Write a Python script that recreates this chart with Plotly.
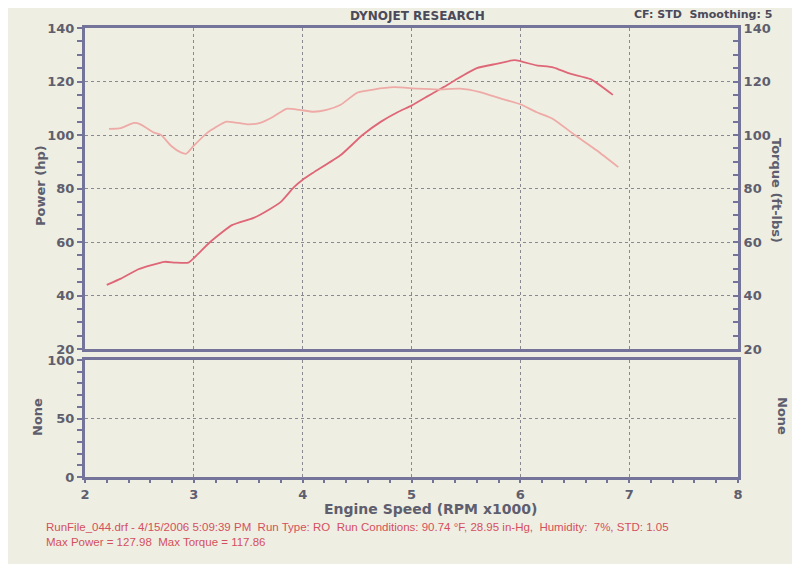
import plotly.graph_objects as go

# ---- data ----
rpm_power = [2.2, 2.33, 2.49, 2.73, 2.83, 2.95, 3.0, 3.15, 3.35, 3.55, 3.67, 3.8, 3.92, 4.0, 4.1,
             4.35, 4.55, 4.72, 4.88, 5.0, 5.17, 5.3, 5.4, 5.6, 5.78, 5.95, 6.15, 6.3, 6.45, 6.65, 6.85]
power_hp = [44, 46.3, 49.8, 52.6, 52.3, 52.3, 54, 60, 66.3, 69, 71.6, 75, 80.5, 83.3, 86,
            92.5, 100, 105, 108.7, 111, 115, 118, 120.5, 125, 126.6, 127.98, 126, 125.3, 123, 120.8, 115]

rpm_torque = [2.22, 2.33, 2.45, 2.51, 2.63, 2.7, 2.79, 2.88, 2.93, 3.0, 3.12, 3.3, 3.49, 3.61, 3.73,
              3.85, 3.97, 4.1, 4.22, 4.35, 4.5, 4.65, 4.84, 5.05, 5.25, 5.45, 5.63, 5.83, 6.0, 6.15,
              6.3, 6.5, 6.7, 6.9]
torque_ftlb = [102.3, 102.6, 104.5, 104, 101, 100, 96, 93.5, 93, 96, 100.7, 105, 104, 104.5, 106.8,
               109.8, 109.4, 108.7, 109.4, 111.3, 115.8, 117, 117.86, 117.3, 117, 117.3, 116, 113.5, 111.5, 108.5,
               106, 100, 94.3, 88]

x_ticks = [2, 3, 4, 5, 6, 7, 8]
main_y_ticks = [20, 40, 60, 80, 100, 120, 140]
aux_y_ticks = [0, 50, 100]

paper = "#efeee2"
axis_col = "#74749a"
grid_col = "#8a8890"
text_col = "#5e5e6e"
tick_font = dict(family="DejaVu Sans", size=13, color=text_col, weight="bold")

# page body has an 8px margin: target pixel (X, Y) -> figure pixel (X-8, Y-8)
OFF = 8
L, R, T, B = 85 - OFF, 800 - (738 - OFF), 28 - OFF, 564 - (477 - OFF)
W, H = 800, 564
pw, ph = W - L - R, H - T - B


def px(X):
    return (X - OFF - L) / pw


def py(Y):
    return (H - B - (Y - OFF)) / ph


upper_lo = 1 - (349 - 28) / (477 - 28)
lower_hi = (477 - 360) / (477 - 28)

fig = go.Figure()
fig.add_trace(go.Scatter(x=rpm_torque, y=torque_ftlb, xaxis="x2", yaxis="y2", mode="lines",
                         line=dict(color="#eeaaa6", width=1.8, shape="spline", smoothing=0.5),
                         showlegend=False, name="Torque"))
fig.add_trace(go.Scatter(x=rpm_power, y=power_hp, xaxis="x2", yaxis="y", mode="lines",
                         line=dict(color="#de6676", width=1.8, shape="spline", smoothing=0.5),
                         showlegend=False, name="Power"))
fig.add_trace(go.Scatter(x=[], y=[], xaxis="x", yaxis="y3", showlegend=False))

common_x = dict(range=[2, 8], tickvals=x_ticks, showline=True, linecolor=axis_col, linewidth=3,
                mirror=True, showgrid=True, gridcolor=grid_col, griddash="dot", gridwidth=1,
                zeroline=False, automargin=False)
minor_y = dict(ticks="outside", ticklen=5, tickcolor=axis_col, tickwidth=2, showgrid=False)

fig.update_layout(
    width=W, height=H,
    paper_bgcolor=paper, plot_bgcolor=paper,
    margin=dict(l=L, r=R, t=T, b=B),
    xaxis=dict(**common_x, anchor="y3", domain=[0, 1], ticks="outside", ticklen=3,
               tickcolor=axis_col, tickwidth=2, tickfont=tick_font,
               minor=dict(dtick=0.2, ticks="outside", ticklen=3, tickcolor=axis_col, tickwidth=2,
                          showgrid=False)),
    xaxis2=dict(**common_x, anchor="y", matches="x", showticklabels=False, ticks=""),
    yaxis=dict(domain=[upper_lo, 1], range=[20, 140], tickvals=main_y_ticks, showline=True,
               linecolor=axis_col, linewidth=3, mirror=True, ticks="outside", ticklen=5,
               tickcolor=axis_col, tickwidth=2, tickfont=tick_font, showgrid=True,
               gridcolor=grid_col, griddash="dot", zeroline=False, automargin=False,
               minor=dict(dtick=5, **minor_y)),
    yaxis2=dict(overlaying="y", side="right", anchor="x2", range=[20, 140], tickvals=main_y_ticks,
                showline=True, linecolor=axis_col, linewidth=3, ticks="inside", ticklen=5,
                tickcolor=axis_col, tickwidth=2, tickfont=tick_font, showgrid=False, zeroline=False,
                automargin=False,
                minor=dict(dtick=5, ticks="inside", ticklen=5, tickcolor=axis_col, tickwidth=2)),
    yaxis3=dict(domain=[0, lower_hi], range=[0, 100], tickvals=aux_y_ticks, showline=True,
                linecolor=axis_col, linewidth=3, mirror=True, ticks="outside", ticklen=5,
                tickcolor=axis_col, tickwidth=2, tickfont=tick_font, showgrid=True,
                gridcolor=grid_col, griddash="dot", zeroline=False, automargin=False,
                minor=dict(dtick=10, **minor_y)),
)

bold = dict(family="DejaVu Sans", size=13, color=text_col, weight="bold")
head = dict(family="DejaVu Sans", size=11, color="#4a4a5a", weight="bold")
anns = [
    ("DYNOJET RESEARCH", 417, 16, 0, dict(head, size=12)),
    ("CF: STD  Smoothing: 5", 703, 14, 0, head),
    ("Power (hp)", 41, 186, -90, bold),
    ("Torque (ft-lbs)", 777, 190, 90, bold),
    ("None", 38, 417, -90, bold),
    ("None", 783, 416, 90, bold),
    ("Engine Speed (RPM x1000)", 430, 509, 0, dict(bold, size=14)),
]
for text, X, Y, ang, font in anns:
    fig.add_annotation(text=text, x=px(X), y=py(Y), xref="paper", yref="paper",
                       xanchor="center", yanchor="middle", showarrow=False, font=font,
                       textangle=ang)

footer1 = "RunFile_044.drf - 4/15/2006 5:09:39 PM  Run Type: RO  Run Conditions: 90.74 °F, 28.95 in-Hg,  Humidity:  7%, STD: 1.05"
footer2 = "Max Power = 127.98  Max Torque = 117.86"
red = dict(family="Liberation Sans", size=11.5, color="#d4505e")
for txt, Y in [(footer1, 527), (footer2, 542)]:
    fig.add_annotation(text=txt, x=px(44), y=py(Y), xref="paper", yref="paper",
                       xanchor="left", yanchor="middle", showarrow=False, font=red)

fig.write_html("out.html")
